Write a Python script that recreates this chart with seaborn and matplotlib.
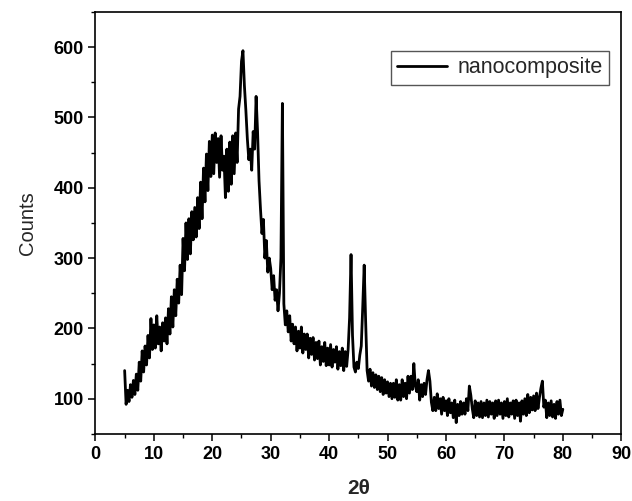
import numpy as np
import pandas as pd
import matplotlib
matplotlib.use("Agg")
import matplotlib.pyplot as plt
import seaborn as sns
from matplotlib.ticker import MultipleLocator

# 2-theta grid (0.25 deg steps from 5 to 80)
two_theta = np.arange(5.0, 80.001, 0.25)

# Counts (4 values per degree: .00 .25 .50 .75)
counts = [
    140, 92, 112, 96,      # 5
    120, 102, 126, 106,    # 6
    135, 112, 152, 125,    # 7
    168, 138, 175, 148,    # 8
    190, 158, 214, 170,    # 9
    205, 172, 218, 178,    # 10
    202, 168, 208, 182,    # 11
    215, 178, 228, 192,    # 12
    245, 202, 255, 218,    # 13
    270, 236, 290, 248,    # 14
    328, 282, 350, 298,    # 15
    356, 306, 366, 326,    # 16
    372, 330, 386, 342,    # 17
    408, 356, 428, 380,    # 18
    448, 396, 466, 416,    # 19
    475, 420, 478, 436,    # 20
    470, 415, 474, 425,    # 21
    445, 386, 455, 395,    # 22
    465, 405, 474, 420,    # 23
    478, 436, 512, 530,    # 24
    580, 595, 545, 510,    # 25
    470, 440, 455, 425,    # 26
    480, 455, 530, 480,    # 27
    410, 370, 335, 355,    # 28
    300, 325, 280, 300,    # 29
    285, 255, 275, 240,    # 30
    255, 225, 250, 300,    # 31
    520, 235, 205, 225,    # 32
    195, 218, 182, 206,    # 33
    178, 202, 168, 196,    # 34
    172, 202, 165, 192,    # 35
    170, 192, 158, 186,    # 36
    163, 187, 155, 180,    # 37
    157, 182, 148, 174,    # 38
    153, 180, 147, 172,    # 39
    148, 177, 145, 170,    # 40
    152, 174, 142, 167,    # 41
    147, 172, 140, 167,    # 42
    146, 170, 215, 305,    # 43
    190, 145, 138, 152,    # 44
    143, 162, 175, 230,    # 45
    290, 210, 140, 125,    # 46
    142, 118, 137, 116,    # 47
    134, 113, 132, 110,    # 48
    130, 106, 127, 108,    # 49
    124, 103, 122, 100,    # 50
    122, 102, 127, 98,     # 51
    120, 98, 127, 103,     # 52
    122, 100, 132, 108,    # 53
    132, 113, 150, 118,    # 54
    110, 127, 98, 120,     # 55
    103, 122, 106, 127,    # 56
    140, 125, 95, 83,      # 57
    102, 83, 107, 86,      # 58
    100, 78, 102, 83,      # 59
    97, 76, 100, 80,       # 60
    94, 73, 98, 66,        # 61
    92, 76, 96, 78,        # 62
    94, 78, 100, 83,       # 63
    118, 105, 86, 73,      # 64
    97, 76, 94, 74,        # 65
    96, 73, 94, 76,        # 66
    98, 74, 96, 78,        # 67
    94, 72, 97, 76,        # 68
    98, 78, 94, 72,        # 69
    96, 76, 100, 74,       # 70
    94, 78, 97, 72,        # 71
    98, 76, 94, 68,        # 72
    97, 78, 100, 76,       # 73
    106, 80, 102, 84,      # 74
    104, 83, 108, 86,      # 75
    102, 115, 125, 88,     # 76
    98, 73, 94, 76,        # 77
    97, 74, 92, 72,        # 78
    96, 78, 98, 76,        # 79
    85,                    # 80
]

series_label = "nanocomposite"
x_ticks = [0, 10, 20, 30, 40, 50, 60, 70, 80, 90]
y_ticks = [100, 200, 300, 400, 500, 600]

df = pd.DataFrame({"two_theta": two_theta, "counts": counts, "series": series_label})

sns.set_theme(style="ticks")
plt.rcParams["font.family"] = ["Liberation Sans", "DejaVu Sans"]

fig = plt.figure(figsize=(6.32, 5.01), dpi=100)
ax = fig.add_axes([0.151, 0.134, 0.832, 0.842])

sns.lineplot(data=df, x="two_theta", y="counts", hue="series",
             palette=["black"], linewidth=2.0, estimator=None, ax=ax)

ax.set_xlim(0, 90)
ax.set_ylim(50, 650)
ax.set_xticks(x_ticks)
ax.set_yticks(y_ticks)
ax.xaxis.set_minor_locator(MultipleLocator(5))
ax.yaxis.set_minor_locator(MultipleLocator(50))
ax.tick_params(which="major", direction="out", length=5, width=1.1, colors="black",
               labelsize=13)
ax.tick_params(which="minor", direction="out", length=3, width=1.0, colors="black")
for lab in ax.get_xticklabels() + ax.get_yticklabels():
    lab.set_fontweight("bold")

for s in ax.spines.values():
    s.set_visible(True)
    s.set_linewidth(1.2)
    s.set_color("black")

ax.set_xlabel("2θ", fontsize=15, fontweight="bold", labelpad=12)
ax.set_ylabel("Counts", fontsize=14.5, labelpad=12)

leg = ax.legend(loc="upper right", bbox_to_anchor=(0.977, 0.908), borderaxespad=0,
                fontsize=15.5, frameon=True, fancybox=False, handlelength=2.3,
                borderpad=0.3, handletextpad=0.5)
for line in leg.get_lines():
    line.set_linewidth(2.0)
leg.get_frame().set_edgecolor("#555555")
leg.get_frame().set_linewidth(1.0)
leg.get_frame().set_facecolor("white")
leg.get_frame().set_alpha(1)

fig.savefig("out.png", dpi=100)
